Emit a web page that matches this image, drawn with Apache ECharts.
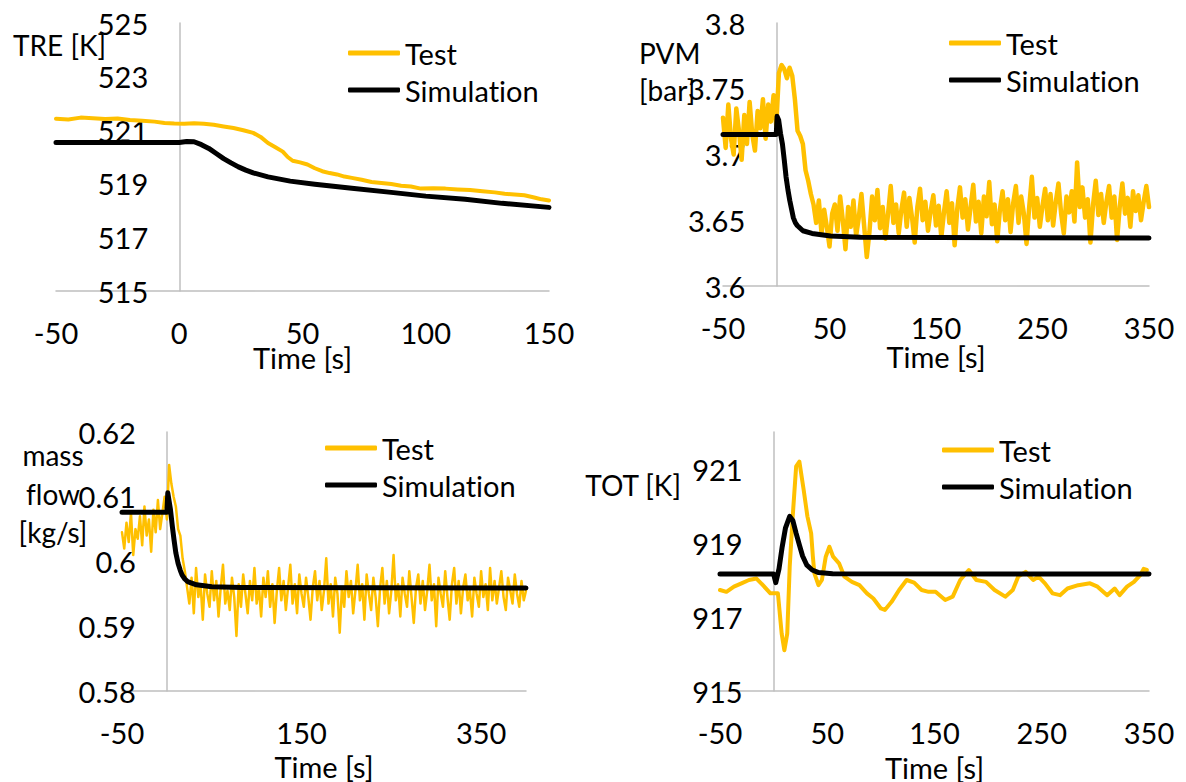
<!DOCTYPE html>
<html>
<head>
<meta charset="utf-8">
<script src="https://cdn.jsdelivr.net/npm/echarts@6/dist/echarts.min.js"></script>
<style>
html,body{margin:0;padding:0;background:#fff;}
#chart{width:1186px;height:782px;}
#chart text{font-variant-ligatures:none !important;}
</style>
</head>
<body>
<div id="chart"></div>
<script>
// ---------- DATA ----------
const legendNames = ['Test', 'Simulation'];
const axisTitles = ['TRE [K]', 'PVM\n[bar]', 'mass\nflow\n[kg/s]', 'TOT [K]'];
const timeTitle = 'Time [s]';

// Panel 1: TRE
const treTestT = [-50,-45,-40,-35,-30,-25,-20,-15,-10,-6,-2,2,6,10,14,18,22,26,30,33,36,39,42,44,46,49,52,55,58,61,64,67,70,74,78,82,86,90,94,98,103,108,113,118,123,128,132,136,140,144,147,150];
const treTestV = [521.43,521.40,521.47,521.45,521.42,521.44,521.38,521.35,521.32,521.27,521.25,521.24,521.26,521.24,521.20,521.14,521.08,521.00,520.90,520.75,520.52,520.36,520.20,520.00,519.86,519.80,519.72,519.58,519.47,519.40,519.35,519.27,519.22,519.15,519.07,519.03,518.99,518.93,518.90,518.82,518.83,518.82,518.79,518.77,518.72,518.68,518.63,518.60,518.57,518.49,518.42,518.38];
const treSimT = [-50,0,3,6,9,12,15,18,21,24,27,30,36,45,55,70,86,100,116,131,150];
const treSimV = [520.54,520.54,520.58,520.57,520.46,520.32,520.13,519.94,519.78,519.63,519.51,519.41,519.26,519.10,518.98,518.83,518.68,518.54,518.42,518.27,518.12];

// Panel 2: PVM (test sampled every 2.5 s from -50 s)
const pvmTestStart = -50, pvmTestStep = 2.5;
const pvmTestV = [
 3.728,3.705,3.738,3.712,3.700,3.735,3.718,3.696,3.730,3.708,3.740,3.715,3.703,3.733,3.720,3.742,3.712,3.738,3.725,3.745,3.722,
 3.762,3.768,3.765,3.758,3.766,3.760,3.742,3.718,3.714,3.708,3.688,3.680,3.670,
 3.662,3.648,3.665,3.640,3.658,3.645,3.630,3.655,3.662,3.642,
 3.668,3.650,3.628,3.660,3.645,3.665,3.638,3.652,3.670,3.646,
 3.622,3.641,3.668,3.650,3.673,3.644,3.660,3.636,3.655,3.676,
 3.648,3.662,3.640,3.658,3.671,3.645,3.667,3.652,3.633,3.660,
 3.674,3.650,3.664,3.642,3.657,3.669,3.646,3.661,3.637,3.656,
 3.672,3.648,3.663,3.631,3.659,3.675,3.652,3.666,3.643,3.660,
 3.677,3.649,3.664,3.640,3.668,3.653,3.679,3.647,3.662,3.634,
 3.658,3.672,3.650,3.666,3.641,3.663,3.676,3.648,3.668,3.655,
 3.632,3.660,3.683,3.652,3.667,3.645,3.661,3.674,3.650,3.670,
 3.646,3.664,3.678,3.655,3.640,3.668,3.656,3.672,3.649,3.694,
 3.660,3.675,3.652,3.666,3.633,3.662,3.680,3.654,3.670,3.648,
 3.664,3.676,3.652,3.668,3.635,3.660,3.678,3.655,3.667,3.645,
 3.672,3.657,3.669,3.650,3.664,3.676,3.660];
const pvmSimT = [-50,0,0.8,2.3,4,5.8,7.5,9.2,11,12.7,14.5,16,18,19.7,25,33.6,51,79,350];
const pvmSimV = [3.7153,3.7153,3.729,3.726,3.716,3.708,3.696,3.683,3.673,3.665,3.658,3.652,3.648,3.646,3.642,3.640,3.638,3.637,3.6365];

// Panel 3: mass flow (test sampled every 2.5 s from -50 s)
const mfTestStart = -50, mfTestStep = 2.5;
const mfTestV = [
 0.6045,0.6020,0.6060,0.6030,0.6075,0.6010,0.6050,0.6035,0.6070,0.6025,0.6085,0.6040,0.6065,0.6015,0.6080,0.6045,0.6095,0.6050,0.6075,0.6100,
 0.6065,0.6149,0.6120,0.6100,0.6085,0.6050,0.6040,0.6005,0.5985,0.5960,
 0.5935,0.5975,0.5920,0.5990,0.5945,0.5965,0.5910,0.5980,0.5950,0.5930,
 0.5985,0.5940,0.5970,0.5915,0.5960,0.5995,0.5935,0.5955,0.5925,0.5975,
 0.5945,0.5885,0.5965,0.5930,0.5980,0.5950,0.5920,0.5970,0.5940,0.5990,
 0.5935,0.5960,0.5915,0.5975,0.5945,0.5985,0.5930,0.5965,0.5905,0.5955,
 0.5990,0.5940,0.5970,0.5925,0.5960,0.5995,0.5935,0.5965,0.5920,0.5980,
 0.5950,0.5930,0.5975,0.5945,0.5910,0.5960,0.5985,0.5940,0.5970,0.5925,
 0.5955,0.6005,0.5935,0.5965,0.5915,0.5975,0.5950,0.5890,0.5960,0.5930,
 0.5985,0.5945,0.5970,0.5920,0.5955,0.5995,0.5940,0.5965,0.5910,0.5980,
 0.5950,0.5925,0.5975,0.5945,0.5900,0.5960,0.5990,0.5935,0.5970,0.5920,
 0.5955,0.6010,0.5940,0.5965,0.5915,0.5975,0.5950,0.5930,0.5985,0.5945,
 0.5905,0.5960,0.5980,0.5935,0.5970,0.5925,0.5955,0.5995,0.5940,0.5965,
 0.5900,0.5975,0.5950,0.5930,0.5985,0.5945,0.5910,0.5965,0.5990,0.5935,
 0.5970,0.5920,0.5960,0.5980,0.5940,0.5955,0.5915,0.5975,0.5950,0.5930,
 0.5985,0.5945,0.5965,0.5925,0.5990,0.5940,0.5970,0.5935,0.5960,0.5985,
 0.5945,0.5925,0.5975,0.5955,0.5935,0.5980,0.5950,0.5930,0.5970,0.5940,0.5955];
const mfSimT = [-50,0,1,4,6,8,10,12.5,15,17,20,23,33,50,83,400];
const mfSimV = [0.6076,0.6076,0.6106,0.6080,0.6055,0.6033,0.6013,0.5997,0.5986,0.5979,0.5973,0.5969,0.5964,0.5961,0.5960,0.5959];

// Panel 4: TOT
const totTestT = [-50,-44,-37,-30,-23,-16,-10,-3,4,7.5,10,12.7,15,17.8,21,24,28,31.5,35,36.6,38,41.8,45,48.6,52,55.5,61,66,73,80,87,93,100,103.7,110,117,124,131,138,144.5,151,160,167,174,182,189,198,206,216,223,228,235,242,247,253,260,267,274,284,295,302,311,318,322.6,329.5,336,341.8,345,348];
const totTestV = [917.73,917.68,917.82,917.91,918.00,918.04,917.86,917.64,917.64,916.55,916.10,916.55,918.36,919.72,921.07,921.20,920.44,919.72,919.26,918.63,918.18,917.86,918.00,918.63,918.90,918.63,918.45,918.09,917.95,917.86,917.64,917.50,917.23,917.19,917.41,917.73,918.00,917.93,917.73,917.68,917.68,917.46,917.55,918.00,918.27,918.00,917.95,917.73,917.55,917.73,918.09,918.22,918.00,918.09,917.91,917.64,917.59,917.77,917.86,917.91,917.82,917.59,917.77,917.59,917.82,917.95,918.13,918.30,918.27];
const totSimT = [-50,0,2,5,8,11,15,18,21,24,27,31,36,42,55,350];
const totSimV = [918.16,918.16,917.93,918.30,918.90,919.40,919.72,919.60,919.26,918.95,918.65,918.40,918.27,918.20,918.17,918.16];

// ---------- BUILD ----------
const zip = (t, v) => t.map((x, i) => [x, v[i]]);
const sampled = (start, step, v) => v.map((y, i) => [start + i * step, y]);

const FONT = 'Lato';
const FS = 29;
const GOLD = '#FFC000';
const AXISGRAY = '#BFBFBF';

const grids = [
  {left: 56, top: 23, width: 493, height: 268, outerBoundsMode: 'none', containLabel: false},
  {left: 723, top: 23, width: 426, height: 263, outerBoundsMode: 'none', containLabel: false},
  {left: 122, top: 432, width: 404, height: 259, outerBoundsMode: 'none', containLabel: false},
  {left: 720, top: 432, width: 429, height: 259, outerBoundsMode: 'none', containLabel: false}
];

const xCfg = [
  {min: -50, max: 150, interval: 50, show: v => true, gap: 52},
  {min: -50, max: 350, interval: 50, show: v => ((v + 50) % 100) === 0, gap: 56},
  {min: -50, max: 400, interval: 50, show: v => ((v + 50) % 200) === 0, gap: 61},
  {min: -50, max: 350, interval: 50, show: v => ((v + 50) % 100) === 0, gap: 62}
];
const yCfg = [
  {min: 515, max: 525, interval: 1, fmt: v => (Math.round(v) % 2 === 1 ? String(v) : '')},
  {min: 3.6, max: 3.8, interval: 0.05, fmt: v => String(+v.toFixed(2))},
  {min: 0.58, max: 0.62, interval: 0.01, fmt: v => String(+v.toFixed(2))},
  {min: 915, max: 922, interval: 1, fmt: v => (Math.round(v) % 2 === 1 ? String(v) : '')}
];
const yLabelGap = 31; // gap between the y labels and the vertical axis line at t = 0

const labelStyle = {color: '#000', fontFamily: FONT, fontSize: FS};

const xAxes = xCfg.map((c, i) => ({
  type: 'value', gridIndex: i, min: c.min, max: c.max, interval: c.interval,
  name: timeTitle, nameLocation: 'middle', nameGap: c.gap, nameMoveOverlap: false,
  nameTextStyle: {color: '#000', fontFamily: FONT, fontSize: FS},
  axisLine: {show: true, onZero: false, lineStyle: {color: AXISGRAY, width: 1.5}},
  axisTick: {show: false}, splitLine: {show: false},
  axisLabel: Object.assign({margin: 27, showMinLabel: true, showMaxLabel: true,
    formatter: v => (c.show(v) ? String(v) : '')}, labelStyle)
}));
const yAxes = yCfg.map((c, i) => {
  const xc = xCfg[i];
  const zeroOffset = grids[i].width * (0 - xc.min) / (xc.max - xc.min);
  return {
    type: 'value', gridIndex: i, min: c.min, max: c.max, interval: c.interval,
    axisLine: {show: true, onZero: true, lineStyle: {color: AXISGRAY, width: 1.5}},
    axisTick: {show: false}, splitLine: {show: false},
    axisLabel: Object.assign({margin: yLabelGap - zeroOffset, showMinLabel: true, showMaxLabel: i !== 3,
      formatter: c.fmt}, labelStyle)
  };
});

const testWidths = [4, 4.5, 2.5, 4];
const testData = [
  zip(treTestT, treTestV),
  sampled(pvmTestStart, pvmTestStep, pvmTestV),
  sampled(mfTestStart, mfTestStep, mfTestV),
  zip(totTestT, totTestV)
];
const simData = [
  zip(treSimT, treSimV),
  zip(pvmSimT, pvmSimV),
  zip(mfSimT, mfSimV),
  zip(totSimT, totSimV)
];

const series = [];
const legends = [];
const legendPos = [
  {left: 348, top: 38},
  {left: 949, top: 28},
  {left: 325, top: 433},
  {left: 942, top: 435}
];
for (let i = 0; i < 4; i++) {
  const tn = legendNames[0] + '#' + i, sn = legendNames[1] + '#' + i;
  series.push({
    name: tn, type: 'line', xAxisIndex: i, yAxisIndex: i, data: testData[i],
    symbol: 'none', showSymbol: false, smooth: false, animation: false,
    lineStyle: {color: GOLD, width: testWidths[i], cap: 'round', join: 'round'},
    itemStyle: {color: GOLD}, z: 2
  });
  series.push({
    name: sn, type: 'line', xAxisIndex: i, yAxisIndex: i, data: simData[i],
    symbol: 'none', showSymbol: false, smooth: false, animation: false,
    lineStyle: {color: '#000', width: 5, cap: 'round', join: 'round'},
    itemStyle: {color: '#000'}, z: 3
  });
  legends.push({
    orient: 'vertical', left: legendPos[i].left, top: legendPos[i].top,
    padding: 0, itemWidth: 52, itemHeight: 5, itemGap: 7, selectedMode: false,
    icon: 'roundRect',
    textStyle: {color: '#000', fontFamily: FONT, fontSize: FS, lineHeight: 30},
    formatter: n => n.split('#')[0],
    data: [
      {name: tn, itemStyle: {color: GOLD}},
      {name: sn, itemStyle: {color: '#000'}}
    ]
  });
}

const tFont = '28px ' + FONT;
const graphic = [
  {type: 'text', x: 13, y: 45, style: {text: axisTitles[0], font: tFont, fill: '#000', textAlign: 'left', textVerticalAlign: 'middle'}},
  {type: 'text', x: 639, y: 34, style: {text: axisTitles[1], font: tFont, fill: '#000', textAlign: 'left', lineHeight: 37}},
  {type: 'text', x: 53, y: 436, style: {text: axisTitles[2], font: tFont, fill: '#000', textAlign: 'center', lineHeight: 38.5}},
  {type: 'text', x: 681, y: 485, style: {text: axisTitles[3], font: tFont, fill: '#000', textAlign: 'right', textVerticalAlign: 'middle'}}
];

const chart = echarts.init(document.getElementById('chart'), null, {renderer: 'svg'});
chart.setOption({
  animation: false,
  backgroundColor: '#fff',
  grid: grids,
  xAxis: xAxes,
  yAxis: yAxes,
  legend: legends,
  series: series,
  graphic: graphic
});
</script>
</body>
</html>
